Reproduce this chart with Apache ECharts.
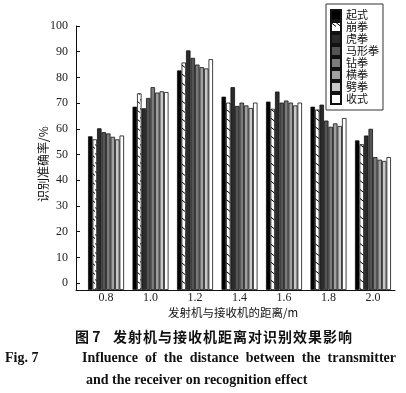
<!DOCTYPE html>
<html><head><meta charset="utf-8">
<script src="https://cdn.jsdelivr.net/npm/echarts@6/dist/echarts.min.js"></script>
<style>html,body{margin:0;padding:0;background:#fff}#c{width:406px;height:393px}</style>
</head><body><div id="c"></div>
<script>
// ---- data ----
const distances = [0.8, 1.0, 1.2, 1.4, 1.6, 1.8, 2.0];
const seriesNames = ['起式', '崩拳', '虎拳', '马形拳', '钻拳', '横拳', '劈拳', '收式'];
const qishi      = [57.1, 68.6, 82.7, 72.5, 70.6, 68.6, 55.5];
const bengquan   = [55.9, 73.8, 85.8, 70.2, 67.8, 67.5, 54.0];
const huquan     = [60.2, 68.0, 90.5, 76.2, 74.5, 69.4, 57.4];
const maxingquan = [58.7, 72.0, 87.6, 68.9, 70.2, 63.2, 60.0];
const zuanquan   = [58.2, 76.2, 85.0, 70.2, 71.0, 60.8, 49.0];
const hengquan   = [56.9, 74.1, 84.0, 69.1, 70.2, 62.1, 48.0];
const piquan     = [55.9, 74.6, 83.5, 68.1, 69.1, 61.1, 47.5];
const shoushi    = [57.4, 74.3, 87.1, 70.2, 70.2, 64.2, 49.0];
const yTicks = [0, 10, 20, 30, 40, 50, 60, 70, 80, 90, 100];
const xAxisName = '发射机与接收机的距离/m';
const yAxisName = '识别准确率/%';
const captionCnLabel = '图 7';
const captionCn = '发射机与接收机距离对识别效果影响';
const captionEnLabel = 'Fig. 7';
const captionEn1 = 'Influence of the distance between the transmitter';
const captionEn2 = 'and the receiver on recognition effect';

const values = [qishi, bengquan, huquan, maxingquan, zuanquan, hengquan, piquan, shoushi];
const yMin = -2.7;   // axis starts slightly below 0; bars rise from the axis line
const yMax = 100;

function hatch() {
  const c = document.createElement('canvas');
  c.width = 5; c.height = 9;
  const g = c.getContext('2d');
  g.fillStyle = '#fff'; g.fillRect(0, 0, 5, 9);
  g.strokeStyle = '#000'; g.lineWidth = 1;
  g.beginPath(); g.moveTo(0, 0.5); g.lineTo(5, 4.5); g.stroke();
  return c;
}
const colors = ['#000000', {image: hatch(), repeat: 'repeat'}, '#2b2b2b', '#555555', '#7b7b7b', '#a0a0a0', '#c8c8c8', '#ffffff'];

// bars are drawn on a hidden companion axis whose zero sits on the x-axis line
const series = seriesNames.map((n, i) => ({
  name: n, type: 'bar', yAxisIndex: 1,
  barWidth: 4.5, barGap: '0%',
  data: distances.map((d, j) => [d, values[i][j] - yMin]),
  itemStyle: {color: colors[i], borderColor: '#111', borderWidth: 0.8},
  emphasis: {disabled: true}
}));

// caption layout helpers
const mctx = document.createElement('canvas').getContext('2d');
function measure(t, font) { mctx.font = font; return mctx.measureText(t).width; }
function txt(t, x, y, font, extra) {
  return Object.assign({type: 'text', x: x, y: y, silent: true,
    style: {text: t, font: font, fill: '#111', textAlign: 'left', textVerticalAlign: 'middle', align: 'left', verticalAlign: 'middle'}}, extra || {});
}
const graphics = [];
graphics.push({type: 'text', x: 233, y: 313, silent: true,
  style: {text: xAxisName, font: '11.5px "Noto Sans CJK SC"', fill: '#111', textAlign: 'center', textVerticalAlign: 'middle', align: 'center', verticalAlign: 'middle'}});
graphics.push({type: 'text', x: 43, y: 164, rotation: Math.PI / 2, silent: true,
  style: {text: yAxisName, font: '12px "Noto Sans CJK SC"', fill: '#111', textAlign: 'center', textVerticalAlign: 'middle', align: 'center', verticalAlign: 'middle'}});
const cnFont = 'bold 14px "Noto Sans CJK SC"';
graphics.push(txt(captionCnLabel, 75, 337, cnFont));
const cnChars = Array.from(captionCn);
const cnStart = 113, cnEnd = 352;
const cnPitch = (cnEnd - cnStart - 14) / (cnChars.length - 1);
cnChars.forEach((ch, k) => graphics.push(txt(ch, cnStart + k * cnPitch, 337, cnFont)));
const enFont = 'bold 14px "Liberation Serif"';
graphics.push(txt(captionEnLabel, 5, 358, enFont));
const words = captionEn1.split(' ');
const wStart = 82, wEnd = 396;
const wTotal = words.reduce((s, w) => s + measure(w, enFont), 0);
const gap = (wEnd - wStart - wTotal) / (words.length - 1);
let cx = wStart;
words.forEach(w => { graphics.push(txt(w, cx, 358, enFont)); cx += measure(w, enFont) + gap; });
graphics.push(txt(captionEn2, 86, 380, enFont));

const chart = echarts.init(document.getElementById('c'), null, {renderer: 'canvas'});
chart.setOption({
  animation: false,
  backgroundColor: '#fff',
  grid: {left: 76, right: 11, top: 26, bottom: 103, containLabel: false},
  legend: {
    orient: 'vertical', left: 326, top: 4, itemWidth: 10, itemHeight: 10, itemGap: 0,
    icon: 'rect',
    padding: [5, 4, 5, 4], borderColor: '#333', borderWidth: 1, selectedMode: false,
    textStyle: {fontFamily: 'Noto Sans CJK SC', fontSize: 11, color: '#111', lineHeight: 12},
    data: seriesNames
  },
  xAxis: {
    type: 'value', min: 0.665, max: 2.099,
    axisLine: {show: true, onZero: false, lineStyle: {color: '#111', width: 1}},
    axisTick: {show: false},
    splitLine: {show: false},
    axisLabel: {customValues: distances, formatter: v => v.toFixed(1), margin: 2,
      fontFamily: 'Liberation Serif', fontSize: 12, color: '#222'}
  },
  yAxis: [{
    type: 'value', min: yMin, max: yMax,
    axisLine: {show: true, onZero: false, lineStyle: {color: '#111', width: 1}},
    axisTick: {show: true, inside: true, length: 4, customValues: yTicks, lineStyle: {color: '#111'}},
    splitLine: {show: false},
    axisLabel: {customValues: yTicks, margin: 8, fontFamily: 'Liberation Serif', fontSize: 12, color: '#222'}
  }, {
    type: 'value', min: 0, max: yMax - yMin, show: false, splitLine: {show: false}
  }],
  graphic: graphics,
  series: series
});
</script>
</body></html>
